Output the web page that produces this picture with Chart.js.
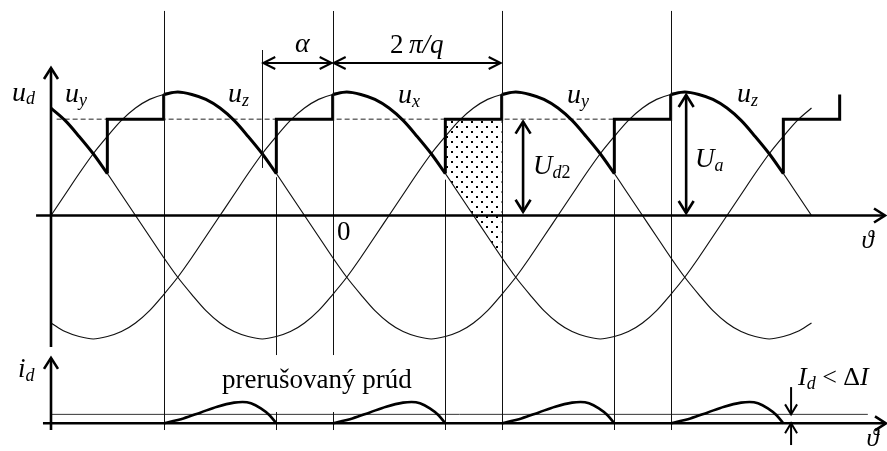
<!DOCTYPE html>
<html><head><meta charset="utf-8">
<script src="https://cdn.jsdelivr.net/npm/chart.js@4.4.1/dist/chart.umd.min.js"></script>
<style>html,body{margin:0;padding:0;background:#fff;overflow:hidden}canvas{display:block}</style>
</head><body>
<canvas id="c" width="887" height="451"></canvas>
<script>
// ---------------- data ----------------
// one period of the phase voltage, sampled every 10 degrees (peak = 1)
const waveAnglesDeg = [0,10,20,30,40,50,60,70,80,90,100,110,120,130,140,150,160,170,180,190,200,210,220,230,240,250,260,270,280,290,300,310,320,330,340,350];
const waveValues = [0,0.17,0.34,0.5,0.64,0.77,0.87,0.94,0.98,1,0.98,0.94,0.87,0.77,0.64,0.5,0.34,0.17,0,-0.17,-0.34,-0.5,-0.64,-0.77,-0.87,-0.94,-0.98,-1,-0.98,-0.94,-0.87,-0.77,-0.64,-0.5,-0.34,-0.17];
const phaseNames = ['z','x','y'];
const phaseShiftDeg = [0,120,240];
const curveRangeDeg = [0,540];
// thyristor firing instants and the phase that takes over
const firingDeg = [-40,80,200,320,440,560];
const firingPhase = ['y','z','x','y','z','x'];
const conductionDeg = 80;
const backEmf = 0.78;            // dashed level
const backEmfRangeDeg = [4,400];
const naturalCommutationDeg = 150;
const hatchedAfterFiring = 2;     // dotted area (U_d2) after the 3rd firing
// discontinuous current pulse (one pulse, angle from firing, height relative to max)
const idShapeDeg = [0,14,26,38,50,56,62,69,75,80];
const idShapeValue = [0,0.23,0.5,0.78,0.97,1,0.94,0.7,0.39,0];
const idPulseStartDeg = [80,200,320,440];
const deltaI = 0.42;
const deltaIRangeDeg = [0,580];

// ---------------- helpers ----------------
function phaseValue(name, t){
  const s = phaseShiftDeg[phaseNames.indexOf(name)];
  const a = (((t - s) % 360) + 360) % 360;
  return waveValues[waveAnglesDeg.indexOf(a)];
}
function range(a,b){ const r=[]; for(let t=a;t<=b;t+=10) r.push(t); return r; }

const BLACK = '#111';
const datasets = [];

// dotted pattern
const pc = document.createElement('canvas'); pc.width = 10; pc.height = 10;
const pg = pc.getContext('2d'); pg.fillStyle = '#000';
pg.fillRect(1,1,2,2); pg.fillRect(6,6,2,2);
const dotPattern = document.getElementById('c').getContext('2d').createPattern(pc,'repeat');

// hatched area between back-emf level and the phase voltage
{
  const i = hatchedAfterFiring;
  const a = firingDeg[i] + conductionDeg, b = firingDeg[i+1];
  datasets.push({data: range(a,b).map(t=>({x:t,y:phaseValue(firingPhase[i],t)})),
    borderWidth:0, borderColor:'rgba(0,0,0,0)', backgroundColor: dotPattern,
    fill:{value: backEmf}, cubicInterpolationMode:'monotone', order:6, yAxisID:'y'});
}
// dashed back-emf
datasets.push({data:[{x:backEmfRangeDeg[0],y:backEmf},{x:backEmfRangeDeg[1],y:backEmf}],
  borderColor:'#222', borderWidth:1, borderDash:[5,3], order:5, yAxisID:'y'});
// thin phase voltages
phaseNames.forEach(p=>{
  datasets.push({data: range(curveRangeDeg[0],curveRangeDeg[1]).map(t=>({x:t,y:phaseValue(p,t)})),
    borderColor:BLACK, borderWidth:1.2, cubicInterpolationMode:'monotone', order:4, yAxisID:'y'});
});
// bold conduction segments
for(let i=0;i<firingDeg.length-1;i++){
  const a = Math.max(firingDeg[i], curveRangeDeg[0]), b = firingDeg[i]+conductionDeg;
  datasets.push({data: range(a,b).map(t=>({x:t,y:phaseValue(firingPhase[i],t)})),
    borderColor:'#000', borderWidth:3, cubicInterpolationMode:'monotone', order:1, yAxisID:'y',
    borderCapStyle:'butt'});
}
// bold steps (no current -> back emf, then firing)
{
  const d = [];
  for(let i=0;i<firingDeg.length-1;i++){
    const e = firingDeg[i]+conductionDeg, f = firingDeg[i+1];
    d.push({x:e,y:phaseValue(firingPhase[i],e)},{x:e,y:backEmf},{x:f,y:backEmf},{x:f,y:phaseValue(firingPhase[i+1],f)},{x:f,y:null});
  }
  datasets.push({data:d, borderColor:'#000', borderWidth:3, tension:0, spanGaps:false,
    borderJoinStyle:'miter', order:1, yAxisID:'y'});
}
// Delta I level
datasets.push({data:[{x:deltaIRangeDeg[0],y:deltaI},{x:deltaIRangeDeg[1],y:deltaI}],
  borderColor:'#333', borderWidth:1, order:5, yAxisID:'y2'});
// current pulses
idPulseStartDeg.forEach(s=>{
  datasets.push({data: idShapeDeg.map((d,k)=>({x:s+d,y:idShapeValue[k]})),
    borderColor:'#000', borderWidth:2.6, cubicInterpolationMode:'monotone', order:1, yAxisID:'y2'});
});

// ---------------- decorations (in data units, through the scales) ----------------
const SERIF = '"Liberation Serif","DejaVu Serif",serif';
const labels = [
  {ax:'y', t:-27.7, v:0.93, parts:[['u',28,1,0],['d',18,1,3]]},
  {ax:'y', t:10,   v:0.92, parts:[['u',28,1,0],['y',18,1,4]]},
  {ax:'y', t:125.7,v:0.92, parts:[['u',28,1,0],['z',18,1,4]]},
  {ax:'y', t:246.4,v:0.91, parts:[['u',28,1,0],['x',18,1,4]]},
  {ax:'y', t:366.4,v:0.91, parts:[['u',28,1,0],['y',18,1,4]]},
  {ax:'y', t:487.1,v:0.92, parts:[['u',28,1,0],['z',18,1,4]]},
  {ax:'y', t:173.3,v:1.324,parts:[['α',28,1,0]]},
  {ax:'y', t:240.7,v:1.316,parts:[['2',27,0,0],['\u2009π/q',27,1,0]]},
  {ax:'y', t:203.1,v:-0.198,parts:[['0',27,0,0]]},
  {ax:'y', t:575.5,v:-0.26,parts:[['ϑ',25,1,0]]},
  {ax:'y', t:342.3,v:0.336,parts:[['U',27,1,0],['d',18,1,4],['2',18,0,4]]},
  {ax:'y', t:457.3,v:0.393,parts:[['U',27,1,0],['a',18,1,4]]},
  {ax:'y2',t:-23.4,v:2.17, parts:[['i',27,1,0],['d',18,1,4]]},
  {ax:'y2',t:121.4,v:1.657,parts:[['prerušovaný prúd',27,0,0]]},
  {ax:'y2',t:530.4,v:1.8,  parts:[['I',26,1,0],['d',18,1,4],[' < ',26,0,0],['Δ',26,0,0],['I',26,1,0]]},
  {ax:'y2',t:579,  v:-1.066,parts:[['ϑ',25,1,0]]},
];
// vertical thin lines: [theta, [axis, from, to] ...]
const TOP2 = 19.36, BOT2 = -0.315, BOTY = -1.737;
const vlines = [
  [firingDeg[1], ['y2',TOP2,BOT2]],
  [firingDeg[2], ['y',1.656,-1.13],['y2',0.53,BOT2]],
  [firingDeg[3], ['y2',TOP2,BOT2]],
  [firingDeg[4], ['y2',TOP2,BOT2]],
  [firingDeg[1]+conductionDeg, ['y',0.31,-1.13],['y2',0.53,BOT2]],
  [firingDeg[2]+conductionDeg, ['y',0.29,BOTY]],
  [firingDeg[3]+conductionDeg, ['y',0.29,BOTY]],
  [naturalCommutationDeg, ['y',1.34,0.385]],
];

function head(ctx,x,y,dx,dy,len,half){
  const px=-dy, py=dx;
  ctx.beginPath();
  ctx.moveTo(x-dx*len+px*half, y-dy*len+py*half);
  ctx.lineTo(x,y);
  ctx.lineTo(x-dx*len-px*half, y-dy*len-py*half);
  ctx.stroke();
}
function arrowLine(ctx,x1,y1,x2,y2,w,len,half,h1,h2){
  ctx.lineWidth=w; ctx.lineCap='butt'; ctx.lineJoin='miter';
  ctx.beginPath(); ctx.moveTo(x1,y1); ctx.lineTo(x2,y2); ctx.stroke();
  const L=Math.hypot(x2-x1,y2-y1), dx=(x2-x1)/L, dy=(y2-y1)/L;
  if(h2) head(ctx,x2,y2,dx,dy,len,half);
  if(h1) head(ctx,x1,y1,-dx,-dy,len,half);
}

const deco = {
  id:'deco',
  afterDatasetsDraw(chart){
    const ctx = chart.ctx, S = chart.scales;
    const X = t=>S.x.getPixelForValue(t);
    const Y = (ax,v)=>S[ax].getPixelForValue(v);
    ctx.save();
    ctx.strokeStyle='#111'; ctx.fillStyle='#000';
    // thin vertical lines
    ctx.lineWidth=1;
    vlines.forEach(([t,...segs])=>{
      const x = Math.round(X(t))+0.5;
      segs.forEach(([ax,a,b])=>{ctx.beginPath();ctx.moveTo(x,Y(ax,a));ctx.lineTo(x,Y(ax,b));ctx.stroke();});
    });
    ctx.strokeStyle='#000';
    // axes
    arrowLine(ctx,X(-10.6),Y('y',0),X(592.2),Y('y',0),2.6,11,7,false,true);
    arrowLine(ctx,X(0),Y('y',-1.065),X(0),Y('y',1.194),2.6,11,7,false,true);
    arrowLine(ctx,X(-5.7),Y('y2',0),X(592.9),Y('y2',0),2.6,11,7,false,true);
    arrowLine(ctx,X(0),Y('y2',-0.315),X(0),Y('y2',3.07),2.6,11,7,false,true);
    // dimension arrows
    arrowLine(ctx,X(naturalCommutationDeg)+1,Y('y',1.235),X(firingDeg[2])-1,Y('y',1.235),2,12,6,true,true);
    arrowLine(ctx,X(firingDeg[2])+1,Y('y',1.235),X(firingDeg[3])-1,Y('y',1.235),2,12,6,true,true);
    arrowLine(ctx,X(335.2),Y('y',backEmf-0.02),X(335.2),Y('y',0.03),2.6,12,7.5,true,true);
    arrowLine(ctx,X(451),Y('y',0.976),X(451),Y('y',0.02),2.6,12,7.5,true,true);
    // Delta I marker
    arrowLine(ctx,X(525.5),Y('y2',1.7),X(525.5),Y('y2',deltaI),2,10,6,false,true);
    arrowLine(ctx,X(525.5),Y('y2',-1.02),X(525.5),Y('y2',0),2,10,6,false,true);
    // labels
    ctx.textBaseline='alphabetic'; ctx.textAlign='left';
    labels.forEach(l=>{
      let cx = X(l.t); const by = Y(l.ax,l.v);
      l.parts.forEach(([txt,size,it,dy])=>{
        ctx.font = (it?'italic ':'')+size+'px '+SERIF;
        ctx.fillText(txt,cx,by+dy);
        cx += ctx.measureText(txt).width;
      });
    });
    ctx.restore();
  }
};

new Chart(document.getElementById('c'), {
  type:'line',
  data:{datasets},
  options:{
    responsive:false, animation:false, devicePixelRatio:1,
    layout:{padding:0, autoPadding:false},
    elements:{point:{radius:0}, line:{fill:false}},
    plugins:{legend:{display:false}, tooltip:{enabled:false}},
    scales:{
      x:{type:'linear', min:-36.213, max:593.61, display:false},
      y:{type:'linear', min:-1.907, max:1.745, display:false},
      y2:{type:'linear', min:-1.3, max:19.873, display:false}
    }
  },
  plugins:[deco]
});
</script>
</body></html>
